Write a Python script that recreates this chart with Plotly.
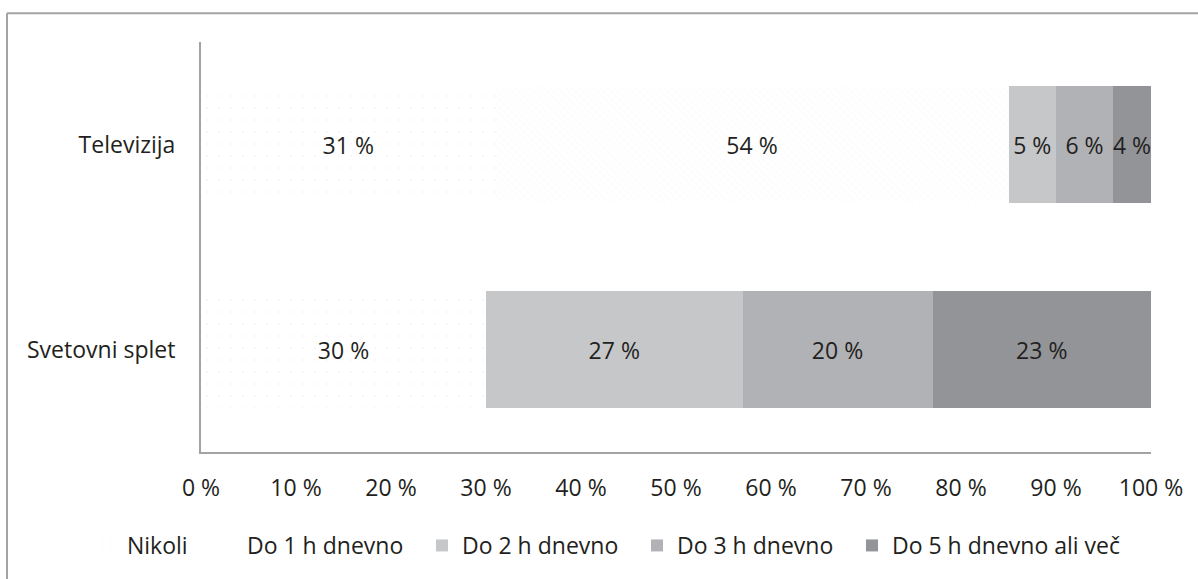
import plotly.graph_objects as go

# Media use per day (share of respondents, %)
categories = ["Televizija", "Svetovni splet"]
series_names = ["Nikoli", "Do 1 h dnevno", "Do 2 h dnevno", "Do 3 h dnevno", "Do 5 h dnevno ali več"]
nikoli = [31, 30]
do_1h = [54, 0]
do_2h = [5, 27]
do_3h = [6, 20]
do_5h = [4, 23]
x_ticks = [0, 10, 20, 30, 40, 50, 60, 70, 80, 90, 100]

series_values = [nikoli, do_1h, do_2h, do_3h, do_5h]
fills = ["#ffffff", "#ffffff", "#c6c7c9", "#b1b2b5", "#939498"]
patterns = [
    dict(shape=".", fgcolor="#d8d8d8", bgcolor="#ffffff", size=12, solidity=0.015),
    dict(shape="\\", fgcolor="#f0f0f0", bgcolor="#ffffff", size=5, solidity=0.12),
    dict(shape=""),
    dict(shape=""),
    dict(shape=""),
]

FONT = "Open Sans"
FS = 23
TEXT_COLOR = "#231f20"
LINE_COLOR = "#a3a3a6"

# plot-area geometry (pixels) used to place the legend entries
PLOT_LEFT, PLOT_WIDTH = 201, 950
legend_px = [87, 207, 422, 637, 852]
legend_ids = ["legend", "legend2", "legend3", "legend4", "legend5"]

fig = go.Figure()
for name, vals, fill, pat, lid in zip(series_names, series_values, fills, patterns, legend_ids):
    fig.add_trace(go.Bar(
        name=name,
        y=categories,
        x=vals,
        orientation="h",
        legend=lid,
        marker=dict(color=fill, line=dict(width=0), pattern=pat),
        text=[f"{v} %" if v else "" for v in vals],
        textposition="inside",
        insidetextanchor="middle",
        textangle=0,
        constraintext="none",
        textfont=dict(family=FONT, size=FS, color=TEXT_COLOR),
        hoverinfo="skip",
    ))

# outer frame (top and left edges)
frame = dict(color=LINE_COLOR, width=2)
fig.add_shape(type="line", xref="paper", yref="paper", x0=-0.2042, x1=1.1, y0=1.0702, y1=1.0702, line=frame)
fig.add_shape(type="line", xref="paper", yref="paper", x0=-0.2042, x1=-0.2042, y0=1.0702, y1=-0.31, line=frame)

legend_common = dict(
    orientation="h",
    xanchor="left",
    y=-0.228, yanchor="middle",
    font=dict(family=FONT, size=FS, color=TEXT_COLOR),
    itemwidth=30,
    bgcolor="rgba(0,0,0,0)",
    borderwidth=0,
)
legend_layout = {
    lid: dict(legend_common, x=(px - PLOT_LEFT) / PLOT_WIDTH)
    for lid, px in zip(legend_ids, legend_px)
}

fig.update_layout(
    barmode="stack",
    bargap=0.43,
    width=1198,
    height=579,
    margin=dict(l=201, r=47, t=42, b=124),
    paper_bgcolor="#ffffff",
    plot_bgcolor="#ffffff",
    font=dict(family=FONT, size=FS, color=TEXT_COLOR),
    showlegend=True,
    xaxis=dict(
        range=[0, 100],
        tickvals=x_ticks,
        ticktext=[f"{t} %" for t in x_ticks],
        showgrid=False,
        zeroline=False,
        showline=True,
        linecolor=LINE_COLOR,
        linewidth=2,
        ticks="",
        ticklabelstandoff=14,
        tickfont=dict(family=FONT, size=FS, color=TEXT_COLOR),
        fixedrange=True,
    ),
    yaxis=dict(
        autorange="reversed",
        showgrid=False,
        zeroline=False,
        showline=True,
        linecolor=LINE_COLOR,
        linewidth=2,
        ticks="",
        ticklabelstandoff=19,
        tickfont=dict(family=FONT, size=FS, color=TEXT_COLOR),
        fixedrange=True,
    ),
    **legend_layout,
)

fig.write_html("out.html")
